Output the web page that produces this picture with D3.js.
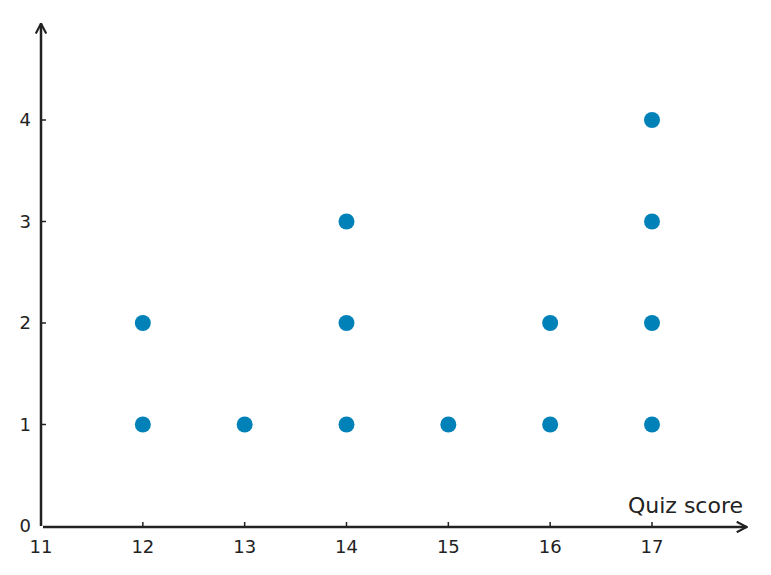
<!DOCTYPE html>
<html>
<head>
<meta charset="utf-8">
<script src="https://cdn.jsdelivr.net/npm/d3@7"></script>
<style>
  body { margin: 0; background: #fff; }
  text { font-family: "DejaVu Sans", sans-serif; }
</style>
</head>
<body>
<svg></svg>
<script>
// Data: one dot per quiz taker, stacked by score
const scores = [12, 13, 14, 15, 16, 17];
const counts = [2, 1, 3, 1, 2, 4];
const xTicks = [11, 12, 13, 14, 15, 16, 17];
const yTicks = [0, 1, 2, 3, 4];

const W = 771, H = 575;
const svg = d3.select("svg").attr("width", W).attr("height", H);

const x = d3.scaleLinear().domain([11, 17]).range([41, 652]);
const y = d3.scaleLinear().domain([0, 4]).range([526, 120]);

const axisColor = "#222";

// Arrow marker
svg.append("defs").append("marker")
  .attr("id", "arrow")
  .attr("viewBox", "0 0 12 12")
  .attr("refX", 11).attr("refY", 6)
  .attr("markerWidth", 12).attr("markerHeight", 12)
  .attr("markerUnits", "userSpaceOnUse")
  .attr("orient", "auto")
  .append("path")
  .attr("d", "M1,0.8 L11,6 L1,11.2")
  .attr("fill", "none")
  .attr("stroke", axisColor)
  .attr("stroke-width", 2.2);

// x axis line
svg.append("line")
  .attr("x1", x(11) + 2).attr("x2", x(17.93))
  .attr("y1", y(0) + 1).attr("y2", y(0) + 1)
  .attr("stroke", axisColor).attr("stroke-width", 2.5)
  .attr("marker-end", "url(#arrow)");

// y axis line
svg.append("line")
  .attr("x1", x(11)).attr("x2", x(11))
  .attr("y1", y(0)).attr("y2", y(4.95))
  .attr("stroke", axisColor).attr("stroke-width", 2.5)
  .attr("marker-end", "url(#arrow)");

// x ticks (pointing inward) and labels
const xg = svg.append("g");
xg.selectAll("line").data(xTicks.slice(1)).join("line")
  .attr("x1", d => x(d)).attr("x2", d => x(d))
  .attr("y1", y(0)).attr("y2", y(0) - 4)
  .attr("stroke", axisColor).attr("stroke-width", 1.5);
xg.selectAll("text").data(xTicks).join("text")
  .attr("x", d => x(d)).attr("y", y(0) + 27)
  .attr("text-anchor", "middle")
  .attr("font-size", 18)
  .attr("fill", axisColor)
  .text(d => d);

// y ticks and labels
const yg = svg.append("g");
yg.selectAll("line").data(yTicks.slice(1)).join("line")
  .attr("x1", x(11)).attr("x2", x(11) + 5)
  .attr("y1", d => y(d)).attr("y2", d => y(d))
  .attr("stroke", axisColor).attr("stroke-width", 1.5);
yg.selectAll("text").data(yTicks).join("text")
  .attr("x", 31).attr("y", d => y(d) + 6)
  .attr("text-anchor", "end")
  .attr("font-size", 18)
  .attr("fill", axisColor)
  .text(d => d);

// axis title
svg.append("text")
  .attr("x", 743).attr("y", 513)
  .attr("text-anchor", "end")
  .attr("font-size", 22)
  .attr("fill", axisColor)
  .text("Quiz score");

// dots
const dots = scores.flatMap((s, i) => d3.range(1, counts[i] + 1).map(k => ({ s, k })));
svg.append("g").selectAll("circle").data(dots).join("circle")
  .attr("cx", d => x(d.s))
  .attr("cy", d => y(d.k))
  .attr("r", 8)
  .attr("fill", "#0082b8");
</script>
</body>
</html>
